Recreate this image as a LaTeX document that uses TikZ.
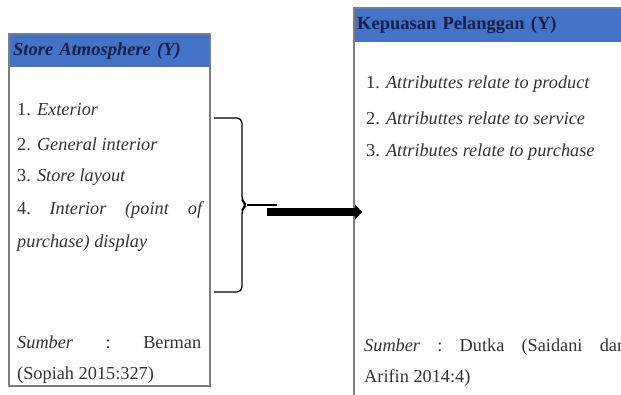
\documentclass[tikz,border=0pt]{standalone}
\usepackage{fontspec}
\setmainfont{Liberation Serif}
\usetikzlibrary{arrows.meta,positioning,calc}
\definecolor{hdrblue}{RGB}{68,114,196}
\definecolor{hdrtext}{RGB}{22,32,78}
\definecolor{boxgray}{RGB}{125,125,125}

\begin{document}
\begin{tikzpicture}[x=1pt, y=-1pt,
  panel/.style={draw=boxgray, line width=1.4pt, anchor=north west, inner sep=0pt},
  hdr/.style={fill=hdrblue, anchor=north west, inner sep=0pt, inner xsep=4pt,
              font=\fontsize{18.5}{20}\selectfont\bfseries, text=hdrtext, align=left},
  item/.style={anchor=west, inner sep=0pt, font=\fontsize{18.3}{20}\selectfont, text=black!80},
  brace/.style={line width=1.3pt, rounded corners=5pt},
  fatarr/.style={-{Triangle[length=7pt, width=15pt]}, line width=8pt}
]
\useasboundingbox (0,0) rectangle (621,394);

% Store Atmosphere box
\node[panel, minimum width=200pt, minimum height=351pt] (sa) at (9,34) {};
\node[hdr, text width=192pt, minimum height=33pt] (sahdr) at (9,34) {\textit{Store Atmosphere (Y)}};
\draw[boxgray, line width=1.4pt] (sa.north west) rectangle (sa.south east);

\node[item] (sa1) at (17,110) {1. \textit{Exterior}};
\node[item] (sa2) at (17,144) {2. \textit{General interior}};
\node[item] (sa3) at (17,177) {3. \textit{Store layout}};
\node[item, text width=187pt] (sa4) at (17,210) {4.\hfill\textit{Interior}\hfill\textit{(point}\hfill\textit{of}};
\node[item] (sa5) at (17,243) {\textit{purchase) display}};
\node[item, text width=184pt] (sasrc) at (17,342) {\textit{Sumber}\hfill:\hfill Berman};
\node[item] (sayr) at (17,375) {(Sopiah 2015:327)};

% Kepuasan Pelanggan box
\node[panel, minimum width=320pt, minimum height=420pt] (kp) at (354,8) {};
\node[hdr, text width=312pt, minimum height=34pt, inner xsep=3pt] (kphdr) at (354,8) {Kepuasan Pelanggan (Y)};
\draw[boxgray, line width=1.4pt] (kp.north west) rectangle (kp.south east);

\node[item] (kp1) at (366,84) {1. \textit{Attributtes relate to product}};
\node[item] (kp2) at (366,118) {2. \textit{Attributtes relate to service}};
\node[item] (kp3) at (366,152) {3. \textit{Attributes relate to purchase}};
\node[item, text width=262pt] (kpsrc) at (364,347) {\textit{Sumber}\hfill:\hfill Dutka\hfill(Saidani\hfill dan};
\node[item] (kpyr) at (364,378) {Arifin 2014:4)};

% brace and arrow
\coordinate (btop) at (214,118);
\coordinate (bbot) at (214,292);
\coordinate (btip) at (247,205);
\coordinate (astart) at (267,212);
\draw[brace] (btop) -- (242,118) -- (242,201) -- (btip) -- (242,209) -- (242,292) -- (bbot);
\draw[line width=1.3pt] (btip) -- (277,205);
\draw[fatarr] (astart) -- ([xshift=8pt]kp.west |- astart);

\end{tikzpicture}
\end{document}
